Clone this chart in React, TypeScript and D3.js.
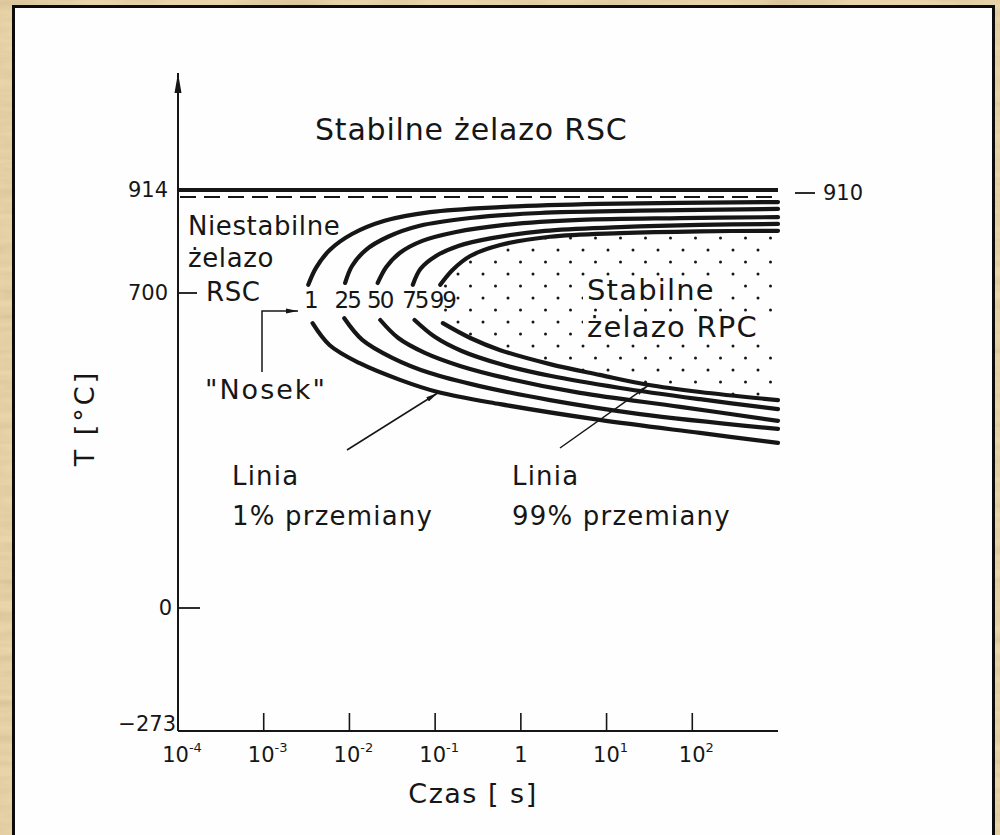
import React, { useEffect } from 'react';
import * as d3 from 'd3';

// time axis (log), temperature axis (schematic, piecewise)
const timeTicks = [1e-4, 1e-3, 1e-2, 1e-1, 1, 10, 100];
const timeTickExp = ['-4', '-3', '-2', '-1', '', '1', '2'];
const tempTicks = [914, 700, 0, -273];
const tempStable = 914;
const tempMagnetic = 910;

const curveLabels = ['1', '25', '50', '75', '99'];

// [log10(t [s]), T [°C]]
const upperBranches: [number, number][][] = [
  [[-2.48, 718], [-2.39, 755], [-2.23, 794], [-1.97, 829], [-1.59, 858], [-1.06, 877], [-0.24, 888], [0.92, 895], [3.0, 899]],
  [[-2.05, 722], [-1.97, 759], [-1.81, 794], [-1.55, 823], [-1.18, 847], [-0.59, 864], [0.22, 875], [1.39, 880], [3.0, 884]],
  [[-1.67, 722], [-1.57, 757], [-1.41, 788], [-1.15, 814], [-0.77, 833], [-0.19, 849], [0.69, 860], [1.86, 864], [3.0, 866]],
  [[-1.26, 718], [-1.17, 753], [-0.99, 781], [-0.73, 803], [-0.34, 820], [0.28, 836], [1.16, 844], [2.09, 849], [3.0, 851]],
  [[-0.94, 718], [-0.8, 750], [-0.59, 781], [-0.24, 805], [0.34, 823], [1.16, 831], [2.09, 835], [3.0, 836]],
];
const lowerBranches: [number, number][][] = [
  [[-2.43, 633], [-2.23, 584], [-1.88, 544], [-1.41, 507], [-0.97, 480], [-0.24, 453], [0.92, 418], [2.09, 389], [3.0, 367]],
  [[-2.06, 644], [-1.85, 596], [-1.5, 556], [-1.06, 522], [-0.48, 493], [0.34, 462], [1.39, 431], [3.0, 398]],
  [[-1.64, 640], [-1.43, 600], [-1.12, 567], [-0.71, 538], [-0.13, 509], [0.69, 478], [1.86, 447], [3.0, 416]],
  [[-1.24, 640], [-1.0, 602], [-0.69, 571], [-0.24, 542], [0.34, 516], [1.16, 489], [2.09, 464], [3.0, 442]],
  [[-0.91, 633], [-0.59, 600], [-0.24, 573], [0.34, 542], [0.92, 518], [1.48, 496], [2.09, 480], [3.0, 462]],
];

const FONT = '"DejaVu Sans", sans-serif';
const INK = '#161616';

export default function App() {
  useEffect(() => {
    document.body.style.margin = '0';
    document.body.style.overflow = 'hidden';
  }, []);

  const W = 1000;
  const H = 835;
  const x = d3.scaleLog().domain([1e-4, 1e3]).range([178, 778]);
  const y = d3.scaleLinear().domain([-273, 0, 700, 910, 914]).range([731, 608, 293, 197, 190]);
  const x0 = x.range()[0];
  const x1 = x.range()[1];
  const yBase = y(-273);

  const line = d3
    .line<[number, number]>()
    .x((d) => x(Math.pow(10, d[0])))
    .y((d) => y(d[1]))
    .curve(d3.curveCatmullRom.alpha(0.5));

  // stippled region inside the 99% curve
  const inner = [...upperBranches[4]].reverse().concat(lowerBranches[4]);
  const innerArea = line(inner) + 'Z';

  return (
    <svg width={W} height={H} style={{ position: 'absolute', left: 0, top: 0, display: 'block' }} fontFamily={FONT}>
      <defs>
        <filter id="paper" x="0" y="0" width="100%" height="100%">
          <feTurbulence type="fractalNoise" baseFrequency="0.012 0.09" numOctaves="3" seed="4" />
          <feColorMatrix type="matrix" values="0 0 0 0 0.62  0 0 0 0 0.47  0 0 0 0 0.26  1.1 0 0 0 -0.35" />
        </filter>
        <pattern id="dots" width="25" height="24" patternUnits="userSpaceOnUse" x="4" y="6">
          <circle cx="4" cy="4" r="1.5" fill={INK} />
          <circle cx="16.5" cy="16" r="1.5" fill={INK} />
        </pattern>
        <clipPath id="innerClip">
          <path d={innerArea} />
        </clipPath>
        <marker id="arr" viewBox="0 0 12 6" refX="12" refY="3" markerWidth="12" markerHeight="6" markerUnits="userSpaceOnUse" orient="auto">
          <path d="M0,0.6 L12,3 L0,5.4 Z" fill={INK} />
        </marker>
        <marker id="arrBig" viewBox="0 0 20 8" refX="20" refY="4" markerWidth="20" markerHeight="8" markerUnits="userSpaceOnUse" orient="auto">
          <path d="M0,0.5 L20,4 L0,7.5 Z" fill={INK} />
        </marker>
      </defs>

      {/* parchment background and white sheet */}
      <rect x={0} y={0} width={W} height={H} fill="#ead5aa" />
      <rect x={0} y={0} width={W} height={H} filter="url(#paper)" />
      <rect x={13.5} y={6.5} width={980} height={900} fill="#fefefe" stroke="#0c0c0c" strokeWidth={3} />

      {/* axes */}
      <line x1={x0} y1={yBase} x2={x0} y2={73} stroke={INK} strokeWidth={2} markerEnd="url(#arrBig)" />
      <line x1={x0} y1={yBase} x2={x1} y2={yBase} stroke={INK} strokeWidth={2} />
      {timeTicks.slice(1).map((t) => (
        <line key={t} x1={x(t)} x2={x(t)} y1={yBase} y2={yBase - 18} stroke={INK} strokeWidth={1.6} />
      ))}
      {timeTicks.map((t, i) => (
        <text key={'l' + t} x={x(t) + (timeTickExp[i] ? 4 : 0)} y={yBase + 31} fontSize={21} textAnchor="middle" fill={INK}>
          {timeTickExp[i] ? (
            <>
              10
              <tspan dy={-10} fontSize={13}>
                {timeTickExp[i]}
              </tspan>
            </>
          ) : (
            '1'
          )}
        </text>
      ))}
      <text x={(x0 + x1) / 2 - 5} y={803} fontSize={27} textAnchor="middle" fill={INK} letterSpacing={1.5}>
        Czas [ s]
      </text>

      {/* temperature ticks */}
      <line x1={x0} x2={x0 + 19} y1={y(700)} y2={y(700)} stroke={INK} strokeWidth={1.8} />
      <line x1={x0} x2={x0 + 22} y1={y(0)} y2={y(0)} stroke={INK} strokeWidth={1.8} />
      {tempTicks.map((tv) => (
        <text
          key={tv}
          x={tv === 0 ? 172 : tv === -273 ? 176 : 168}
          y={y(tv) + (tv === -273 ? 0 : 7)}
          fontSize={21}
          textAnchor="end"
          fill={INK}
        >
          {tv < 0 ? '\u2212' + Math.abs(tv) : tv}
        </text>
      ))}
      <text transform={`translate(94,418) rotate(-90)`} fontSize={27} textAnchor="middle" fill={INK} letterSpacing={3}>
        T [°C]
      </text>

      {/* equilibrium lines */}
      <line x1={x0} x2={x1} y1={y(tempStable)} y2={y(tempStable)} stroke={INK} strokeWidth={3.8} />
      <line x1={x0 + 2} x2={x1} y1={y(tempMagnetic)} y2={y(tempMagnetic)} stroke={INK} strokeWidth={2} strokeDasharray="16 8" />
      <line x1={795} x2={815} y1={y(tempMagnetic) - 4} y2={y(tempMagnetic) - 4} stroke={INK} strokeWidth={1.8} />
      <text x={823} y={y(tempMagnetic) + 3} fontSize={21} fill={INK}>
        {tempMagnetic}
      </text>

      {/* stipple */}
      <rect x={x(1e-1)} y={y(tempStable)} width={x1 - x(1e-1) + 4} height={300} fill="url(#dots)" clipPath="url(#innerClip)" />

      {/* transformation curves */}
      {upperBranches.map((b, i) => (
        <path key={'u' + i} d={line(b) || ''} fill="none" stroke={INK} strokeWidth={4.2} strokeLinecap="round" />
      ))}
      {lowerBranches.map((b, i) => (
        <path key={'d' + i} d={line(b) || ''} fill="none" stroke={INK} strokeWidth={4.2} strokeLinecap="round" />
      ))}
      {curveLabels.map((lab, i) => (
        <text
          key={lab}
          x={x(Math.pow(10, upperBranches[i][0][0])) + 2}
          y={y(700) + 15}
          fontSize={23}
          letterSpacing={-2}
          textAnchor="middle"
          fill={INK}
        >
          {lab}
        </text>
      ))}

      {/* region labels */}
      <text x={315} y={140} fontSize={30} letterSpacing={0.8} fill={INK}>
        Stabilne żelazo RSC
      </text>
      <g fontSize={26} fill={INK} letterSpacing={0.6}>
        <text x={188} y={235}>Niestabilne</text>
        <text x={188} y={267}>żelazo</text>
        <text x={206} y={301}>RSC</text>
      </g>
      <rect x={583} y={276} width={145} height={28} fill="#fefefe" />
      <rect x={583} y={313} width={193} height={30} fill="#fefefe" />
      <g fontSize={29} fill={INK} letterSpacing={1.2}>
        <text x={587} y={300}>Stabilne</text>
        <text x={587} y={337}>żelazo RPC</text>
      </g>

      {/* "Nosek" pointer */}
      <polyline points="262,372 262,311 298,311" fill="none" stroke={INK} strokeWidth={1.5} markerEnd="url(#arr)" />
      <text x={205} y={399} fontSize={27} fill={INK} letterSpacing={2}>
        "Nosek"
      </text>

      {/* line annotations */}
      <line x1={347} y1={450} x2={x(Math.pow(10, -0.97))} y2={y(480) + 1} stroke={INK} strokeWidth={1.5} markerEnd="url(#arr)" />
      <line x1={560} y1={448} x2={x(Math.pow(10, 1.48))} y2={y(496) + 1} stroke={INK} strokeWidth={1.5} markerEnd="url(#arr)" />
      <g fontSize={26} fill={INK} letterSpacing={1.2}>
        <text x={232} y={485}>Linia</text>
        <text x={232} y={525}>1% przemiany</text>
        <text x={512} y={485}>Linia</text>
        <text x={512} y={525}>99% przemiany</text>
      </g>
    </svg>
  );
}
